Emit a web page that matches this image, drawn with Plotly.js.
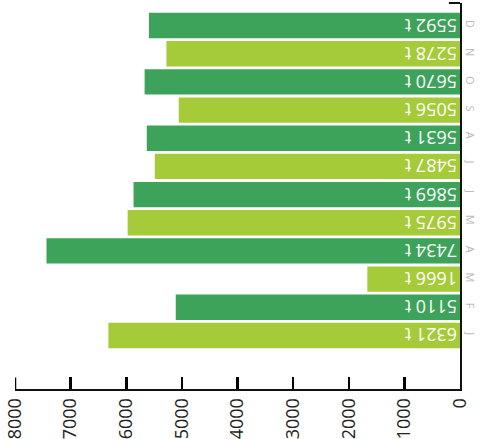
<!DOCTYPE html>
<html><head><meta charset="utf-8">
<script src="https://cdn.plot.ly/plotly-3.0.1.min.js"></script>
<style>html,body{margin:0;padding:0;background:#fff}</style>
</head><body>
<div id="chart" style="width:484px;height:439px"></div>
<script>
const months = ["J","F","M","A","M ","J ","J  ","A ","S","O","N","D"];
const values = [6321,5110,1666,7434,5975,5869,5487,5631,5056,5670,5278,5592];
const unit = " t";
const barColors = ["#a5cb38","#3da35a","#a5cb38","#3da35a","#a5cb38","#3da35a","#a5cb38","#3da35a","#a5cb38","#3da35a","#a5cb38","#3da35a"];
const xTicks = [0,1000,2000,3000,4000,5000,6000,7000,8000];

const trace = {
  type: "bar",
  orientation: "h",
  y: months,
  x: values,
  marker: {color: barColors},
  text: values.map(v => v + unit),
  textposition: "inside",
  insidetextanchor: "start",
  constraintext: "none",
  textangle: 180,
  textfont: {color: "#ffffff", size: 18, family: "Open Sans, DejaVu Sans, sans-serif"},
  hoverinfo: "none",
  cliponaxis: false
};

const layout = {
  width: 484, height: 439,
  margin: {l: 15, r: 24, t: 3, b: 50},
  paper_bgcolor: "#fff", plot_bgcolor: "#fff",
  bargap: 0.1,
  showlegend: false,
  xaxis: {
    range: [8000, 0],
    tickmode: "array",
    tickvals: xTicks,
    ticktext: xTicks.map(String),
    tickangle: -90,
    ticks: "inside", ticklen: 12, tickwidth: 2.5, tickcolor: "#000000",
    showline: true, linecolor: "#111111", linewidth: 2,
    showgrid: false, zeroline: false,
    tickfont: {size: 18, color: "#222", family: "Open Sans, DejaVu Sans, sans-serif"}
  },
  yaxis: {
    type: "category",
    side: "right",
    range: [-1.9, 11.8],
    tickangle: 90,
    ticks: "", showline: true, linecolor: "#111111", linewidth: 2,
    showgrid: false, zeroline: false,
    tickfont: {size: 11, color: "#bbbbbb", family: "Open Sans, DejaVu Sans, sans-serif"}
  },
  shapes: [
    {type: "line", xref: "paper", yref: "paper", x0: 0.975, x1: 1, y0: 1, y1: 1, line: {color: "#111", width: 2}},
    {type: "line", xref: "x", yref: "paper", x0: xTicks[xTicks.length - 1], x1: xTicks[xTicks.length - 1], y0: 0, y1: 0.03, line: {color: "#000", width: 2.5}}
  ]
};

Plotly.newPlot("chart", [trace], layout, {displayModeBar: false, staticPlot: true});
</script>
</body></html>
